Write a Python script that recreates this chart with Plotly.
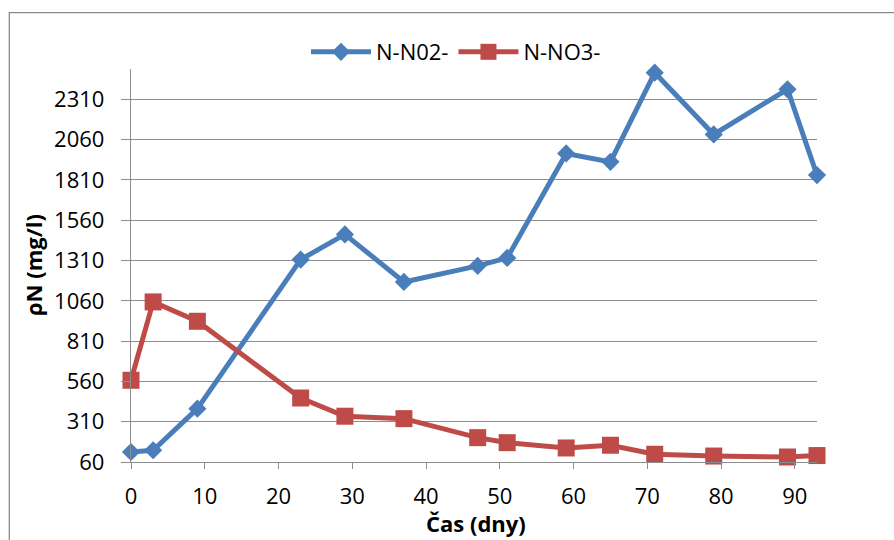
import plotly.graph_objects as go

days = [0, 3, 9, 23, 29, 37, 47, 51, 59, 65, 71, 79, 89, 93]
n_no2 = [122, 133, 391, 1316, 1472, 1177, 1277, 1326, 1974, 1922, 2475, 2092, 2372, 1840]
n_no3 = [567, 1053, 933, 457, 344, 329, 211, 180, 147, 164, 108, 97, 91, 100]

y_ticks = [60, 310, 560, 810, 1060, 1310, 1560, 1810, 2060, 2310]
x_ticks = [0, 10, 20, 30, 40, 50, 60, 70, 80, 90]

BLUE = "#4A7EBB"
RED = "#BE4B48"
GRID = "#8C8C8C"
FONT = "Open Sans"
FS = 22

W, H = 894, 540
ml, mr, mt, mb = 131, 77, 69, 78

fig = go.Figure()
fig.add_trace(go.Scatter(
    x=days, y=n_no2, name="N-N02-", mode="lines+markers",
    line=dict(color=BLUE, width=5),
    marker=dict(symbol="diamond", size=14, color=BLUE),
    cliponaxis=False,
))
fig.add_trace(go.Scatter(
    x=days, y=n_no3, name="N-NO3-", mode="lines+markers",
    line=dict(color=RED, width=5),
    marker=dict(symbol="square", size=17, color=RED),
    cliponaxis=False,
))

pw = W - ml - mr
ph = H - mt - mb

def px_x(p):
    return (p - ml) / pw

def px_y(p):
    return (H - mb - p) / ph

fig.add_shape(type="rect", xref="paper", yref="paper",
              x0=px_x(9.3), x1=px_x(W + 20), y0=px_y(H + 20), y1=px_y(12.7),
              line=dict(color="#8A8A8A", width=1.3), fillcolor="rgba(0,0,0,0)",
              layer="below")

fig.add_annotation(text="<b>ρN (mg/l)</b>", xref="paper", yref="paper",
                   x=px_x(33), y=px_y(265), xanchor="center", yanchor="middle",
                   textangle=-90, showarrow=False, font=dict(family=FONT, size=FS))
fig.add_annotation(text="<b>Čas (dny)</b>", xref="paper", yref="paper",
                   x=px_x(476), y=px_y(523), xanchor="center", yanchor="middle",
                   showarrow=False, font=dict(family=FONT, size=FS))

fig.update_layout(
    width=W, height=H,
    margin=dict(l=ml, r=mr, t=mt, b=mb),
    paper_bgcolor="white", plot_bgcolor="white",
    font=dict(family=FONT, size=FS, color="black"),
    showlegend=True,
    legend=dict(
        orientation="h", x=px_x(306), y=px_y(52), xanchor="left", yanchor="middle",
        font=dict(family=FONT, size=FS, color="black"),
        itemwidth=60, tracegroupgap=0, bgcolor="rgba(0,0,0,0)",
    ),
    xaxis=dict(
        range=[0, 93], tickmode="array", tickvals=x_ticks,
        ticktext=[str(v) for v in x_ticks],
        showgrid=False, zeroline=False,
        showline=True, linecolor=GRID, linewidth=1.3,
        ticks="outside", ticklen=6, tickcolor=GRID, tickwidth=1.3,
        ticklabelstandoff=8,
        tickfont=dict(family=FONT, size=FS),
    ),
    yaxis=dict(
        range=[60, 2498], tickmode="array", tickvals=y_ticks,
        ticktext=[str(v) for v in y_ticks],
        showgrid=True, gridcolor=GRID, gridwidth=1.3,
        zeroline=False,
        showline=True, linecolor=GRID, linewidth=1.3,
        ticks="outside", ticklen=9, tickcolor=GRID, tickwidth=1.3,
        ticklabelstandoff=12,
        tickfont=dict(family=FONT, size=FS),
    ),
)

fig.write_html("out.html")
